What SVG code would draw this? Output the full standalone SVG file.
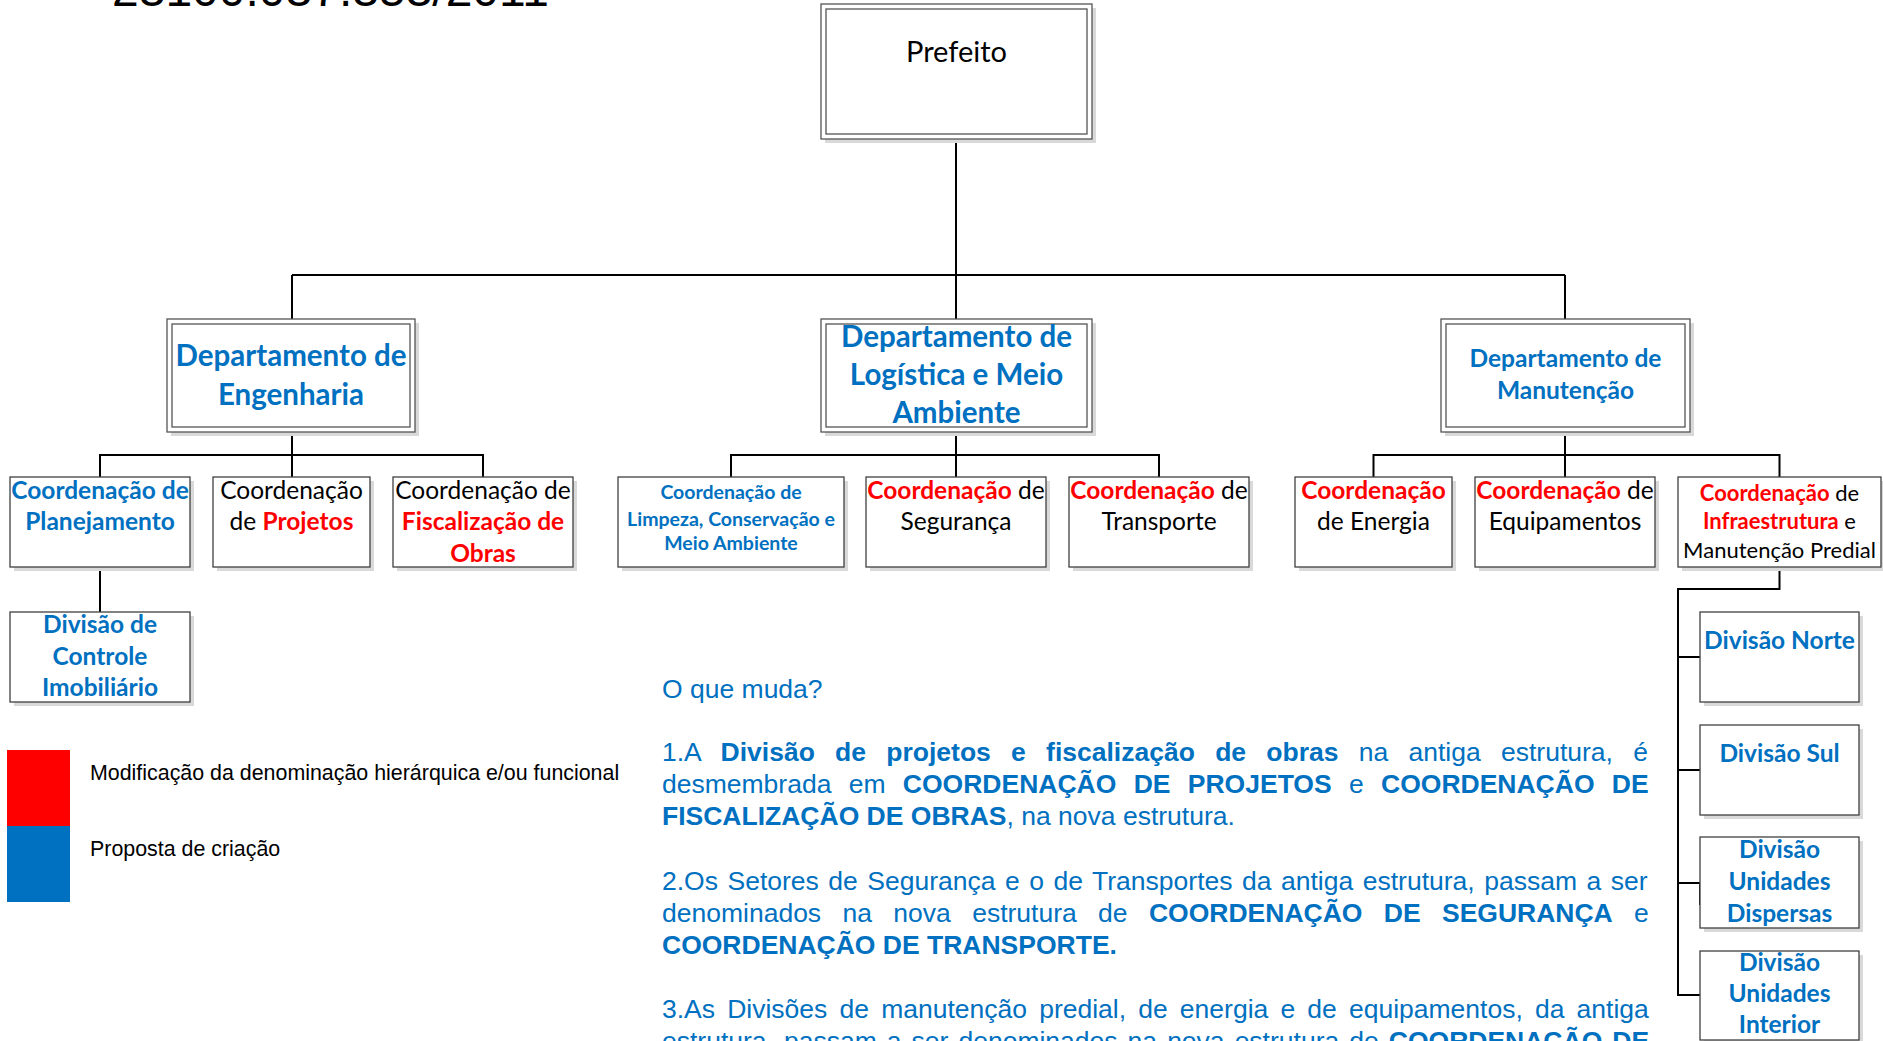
<svg xmlns="http://www.w3.org/2000/svg" width="1883" height="1041" viewBox="0 0 1883 1041">
<style>
.bg{fill:#ffffff}
.sh{fill:#d9d9d9}
.box{fill:#ffffff;stroke:#404040;stroke-width:1.3}
.dbl{fill:#ffffff;stroke:#555555;stroke-width:1.3}
.conn{stroke:#000000;stroke-width:2;fill:none}
.t{font-family:Lato,"Noto Sans","DejaVu Sans",sans-serif;text-anchor:middle;fill:#000000}
.b{font-weight:bold}
.blue{fill:#0070C0}
.red{fill:#FF0000}
.blk{fill:#000000}
.p{font-family:"Liberation Sans",Arial,sans-serif;font-size:26.5px;fill:#0070C0}
.lg{font-family:"Liberation Sans",Arial,sans-serif;font-size:21.4px;fill:#000000}
</style>
<rect class="bg" x="0" y="0" width="1883" height="1041"/>
<text x="112" y="6" style="font-family:'Liberation Sans',Arial,sans-serif;font-size:48px;fill:#000000">23100.037.353/2011</text>

<g id="connectors">
<path class="conn" d="M956,139 V319 M292,275 H1565 M292,275 V319 M1565,275 V319"/>
<path class="conn" d="M292,432 V477 M100,477 V455 H483 V477"/>
<path class="conn" d="M956,432 V477 M731,477 V455 H1159 V477"/>
<path class="conn" d="M1565,432 V477 M1373.5,477 V455 H1779.5 V477"/>
<path class="conn" d="M100,567 V612"/>
<path class="conn" d="M1779.5,567 V589 H1678 V995 H1700 M1678,657 H1700 M1678,770 H1700 M1678,883 H1700 V905"/>
</g>

<g id="prefeito">
<rect class="sh" x="825" y="8" width="271" height="135"/>
<rect class="dbl" x="821" y="4" width="271" height="135"/>
<rect class="dbl" x="826" y="9" width="261" height="125"/>
<text class="t" x="956.5" y="62" font-size="29">Prefeito</text>
</g>

<g id="dep-engenharia">
<rect class="sh" x="171" y="323" width="248" height="113"/>
<rect class="dbl" x="167" y="319" width="248" height="113"/>
<rect class="dbl" x="172" y="324" width="238" height="103"/>
<text class="t b blue" x="291" y="366" font-size="29.5">Departamento de</text>
<text class="t b blue" x="291" y="405" font-size="29.5">Engenharia</text>
</g>

<g id="dep-logistica">
<rect class="sh" x="825" y="323" width="271" height="113"/>
<rect class="dbl" x="821" y="319" width="271" height="113"/>
<rect class="dbl" x="826" y="324" width="261" height="103"/>
<text class="t b blue" x="956.5" y="347" font-size="29.5">Departamento de</text>
<text class="t b blue" x="956.5" y="385" font-size="29.5">Logística e Meio</text>
<text class="t b blue" x="956.5" y="423" font-size="29.5">Ambiente</text>
</g>

<g id="dep-manutencao">
<rect class="sh" x="1445" y="323" width="249" height="113"/>
<rect class="dbl" x="1441" y="319" width="249" height="113"/>
<rect class="dbl" x="1446" y="324" width="239" height="103"/>
<text class="t b blue" x="1565.5" y="367" font-size="24.5">Departamento de</text>
<text class="t b blue" x="1565.5" y="399" font-size="24.5">Manutenção</text>
</g>

<g id="coord-planejamento">
<rect class="sh" x="14" y="481" width="180" height="90"/>
<rect class="box" x="10" y="477" width="180" height="90"/>
<text class="t b blue" x="100" y="499" font-size="24.5">Coordenação de</text>
<text class="t b blue" x="100" y="530" font-size="24.5">Planejamento</text>
</g>

<g id="coord-projetos">
<rect class="sh" x="217" y="481" width="157" height="90"/>
<rect class="box" x="213" y="477" width="157" height="90"/>
<text class="t" x="291.5" y="499" font-size="24.5">Coordenação</text>
<text class="t" x="291.5" y="530" font-size="24.5">de <tspan class="b red">Projetos</tspan></text>
</g>

<g id="coord-fiscalizacao">
<rect class="sh" x="397" y="481" width="180" height="90"/>
<rect class="box" x="393" y="477" width="180" height="90"/>
<text class="t" x="483" y="499" font-size="24.5">Coordenação de</text>
<text class="t b red" x="483" y="530" font-size="24.5">Fiscalização de</text>
<text class="t b red" x="483" y="562" font-size="24.5">Obras</text>
</g>

<g id="div-controle">
<rect class="sh" x="14" y="616" width="180" height="90"/>
<rect class="box" x="10" y="612" width="180" height="90"/>
<text class="t b blue" x="100" y="633" font-size="24.5">Divisão de</text>
<text class="t b blue" x="100" y="665" font-size="24.5">Controle</text>
<text class="t b blue" x="100" y="696" font-size="24.5">Imobiliário</text>
</g>

<g id="coord-limpeza">
<rect class="sh" x="622" y="481" width="226" height="90"/>
<rect class="box" x="618" y="477" width="226" height="90"/>
<text class="t b blue" x="731" y="499" font-size="19.5">Coordenação de</text>
<text class="t b blue" x="731" y="526" font-size="19.5">Limpeza,  Conservação e</text>
<text class="t b blue" x="731" y="550" font-size="19.5">Meio Ambiente</text>
</g>

<g id="coord-seguranca">
<rect class="sh" x="870" y="481" width="180" height="90"/>
<rect class="box" x="866" y="477" width="180" height="90"/>
<text class="t" x="956" y="499" font-size="24.5"><tspan class="b red">Coordenação</tspan> de</text>
<text class="t" x="956" y="530" font-size="24.5">Segurança</text>
</g>

<g id="coord-transporte">
<rect class="sh" x="1073" y="481" width="180" height="90"/>
<rect class="box" x="1069" y="477" width="180" height="90"/>
<text class="t" x="1159" y="499" font-size="24.5"><tspan class="b red">Coordenação</tspan> de</text>
<text class="t" x="1159" y="530" font-size="24.5">Transporte</text>
</g>

<g id="coord-energia">
<rect class="sh" x="1299" y="481" width="157" height="90"/>
<rect class="box" x="1295" y="477" width="157" height="90"/>
<text class="t b red" x="1373.5" y="499" font-size="24.5">Coordenação</text>
<text class="t" x="1373.5" y="530" font-size="24.5">de Energia</text>
</g>

<g id="coord-equipamentos">
<rect class="sh" x="1479" y="481" width="180" height="90"/>
<rect class="box" x="1475" y="477" width="180" height="90"/>
<text class="t" x="1565" y="499" font-size="24.5"><tspan class="b red">Coordenação</tspan> de</text>
<text class="t" x="1565" y="530" font-size="24.5">Equipamentos</text>
</g>

<g id="coord-infraestrutura">
<rect class="sh" x="1682" y="481" width="203" height="90"/>
<rect class="box" x="1678" y="477" width="203" height="90"/>
<text class="t" x="1779.5" y="501" font-size="22"><tspan class="b red">Coordenação</tspan> de</text>
<text class="t" x="1779.5" y="529" font-size="22"><tspan class="b red">Infraestrutura</tspan> e</text>
<text class="t" x="1779.5" y="558" font-size="22">Manutenção Predial</text>
</g>

<g id="div-norte">
<rect class="sh" x="1704" y="616" width="159" height="90"/>
<rect class="box" x="1700" y="612" width="159" height="90"/>
<text class="t b blue" x="1779.5" y="649" font-size="24.5">Divisão Norte</text>
</g>

<g id="div-sul">
<rect class="sh" x="1704" y="729" width="159" height="90"/>
<rect class="box" x="1700" y="725" width="159" height="90"/>
<text class="t b blue" x="1779.5" y="762" font-size="24.5">Divisão Sul</text>
</g>

<g id="div-dispersas">
<rect class="sh" x="1704" y="841" width="159" height="91"/>
<rect class="box" x="1700" y="837" width="159" height="91"/>
<text class="t b blue" x="1779.5" y="858" font-size="24.5">Divisão</text>
<text class="t b blue" x="1779.5" y="890" font-size="24.5">Unidades</text>
<text class="t b blue" x="1779.5" y="922" font-size="24.5">Dispersas</text>
</g>

<g id="div-interior">
<rect class="sh" x="1704" y="955" width="159" height="90"/>
<rect class="box" x="1700" y="951" width="159" height="89"/>
<text class="t b blue" x="1779.5" y="971" font-size="24.5">Divisão</text>
<text class="t b blue" x="1779.5" y="1002" font-size="24.5">Unidades</text>
<text class="t b blue" x="1779.5" y="1033" font-size="24.5">Interior</text>
</g>

<g id="legend">
<rect x="7" y="750" width="63" height="76" fill="#FF0000"/>
<rect x="7" y="826" width="63" height="76" fill="#0070C0"/>
<text class="lg" x="90" y="780">Modificação da denominação hierárquica e/ou funcional</text>
<text class="lg" x="90" y="856">Proposta de criação</text>
</g>

<g id="notes">
<text class="p" x="662" y="698">O que muda?</text>
<text class="p" x="662" y="761" word-spacing="12.9">1.A <tspan font-weight="bold">Divisão de projetos e fiscalização de obras</tspan> na antiga estrutura, é</text>
<text class="p" x="662" y="793" word-spacing="9.96">desmembrada em <tspan font-weight="bold">COORDENAÇÃO DE PROJETOS</tspan> e <tspan font-weight="bold">COORDENAÇÃO DE</tspan></text>
<text class="p" x="662" y="825"><tspan font-weight="bold">FISCALIZAÇÃO DE OBRAS</tspan>, na nova estrutura.</text>
<text class="p" x="662" y="890" word-spacing="2.16">2.Os Setores de Segurança e o de Transportes da antiga estrutura, passam a ser</text>
<text class="p" x="662" y="922" word-spacing="14">denominados na nova estrutura de <tspan font-weight="bold">COORDENAÇÃO DE SEGURANÇA</tspan> e</text>
<text class="p" x="662" y="954" font-weight="bold">COORDENAÇÃO DE TRANSPORTE.</text>
<text class="p" x="662" y="1018" word-spacing="4.8">3.As Divisões de manutenção predial, de energia e de equipamentos, da antiga</text>
<text class="p" x="662" y="1050" word-spacing="2.68">estrutura, passam a ser denominados na nova estrutura de <tspan font-weight="bold">COORDENAÇÃO DE</tspan></text>
</g>
</svg>
